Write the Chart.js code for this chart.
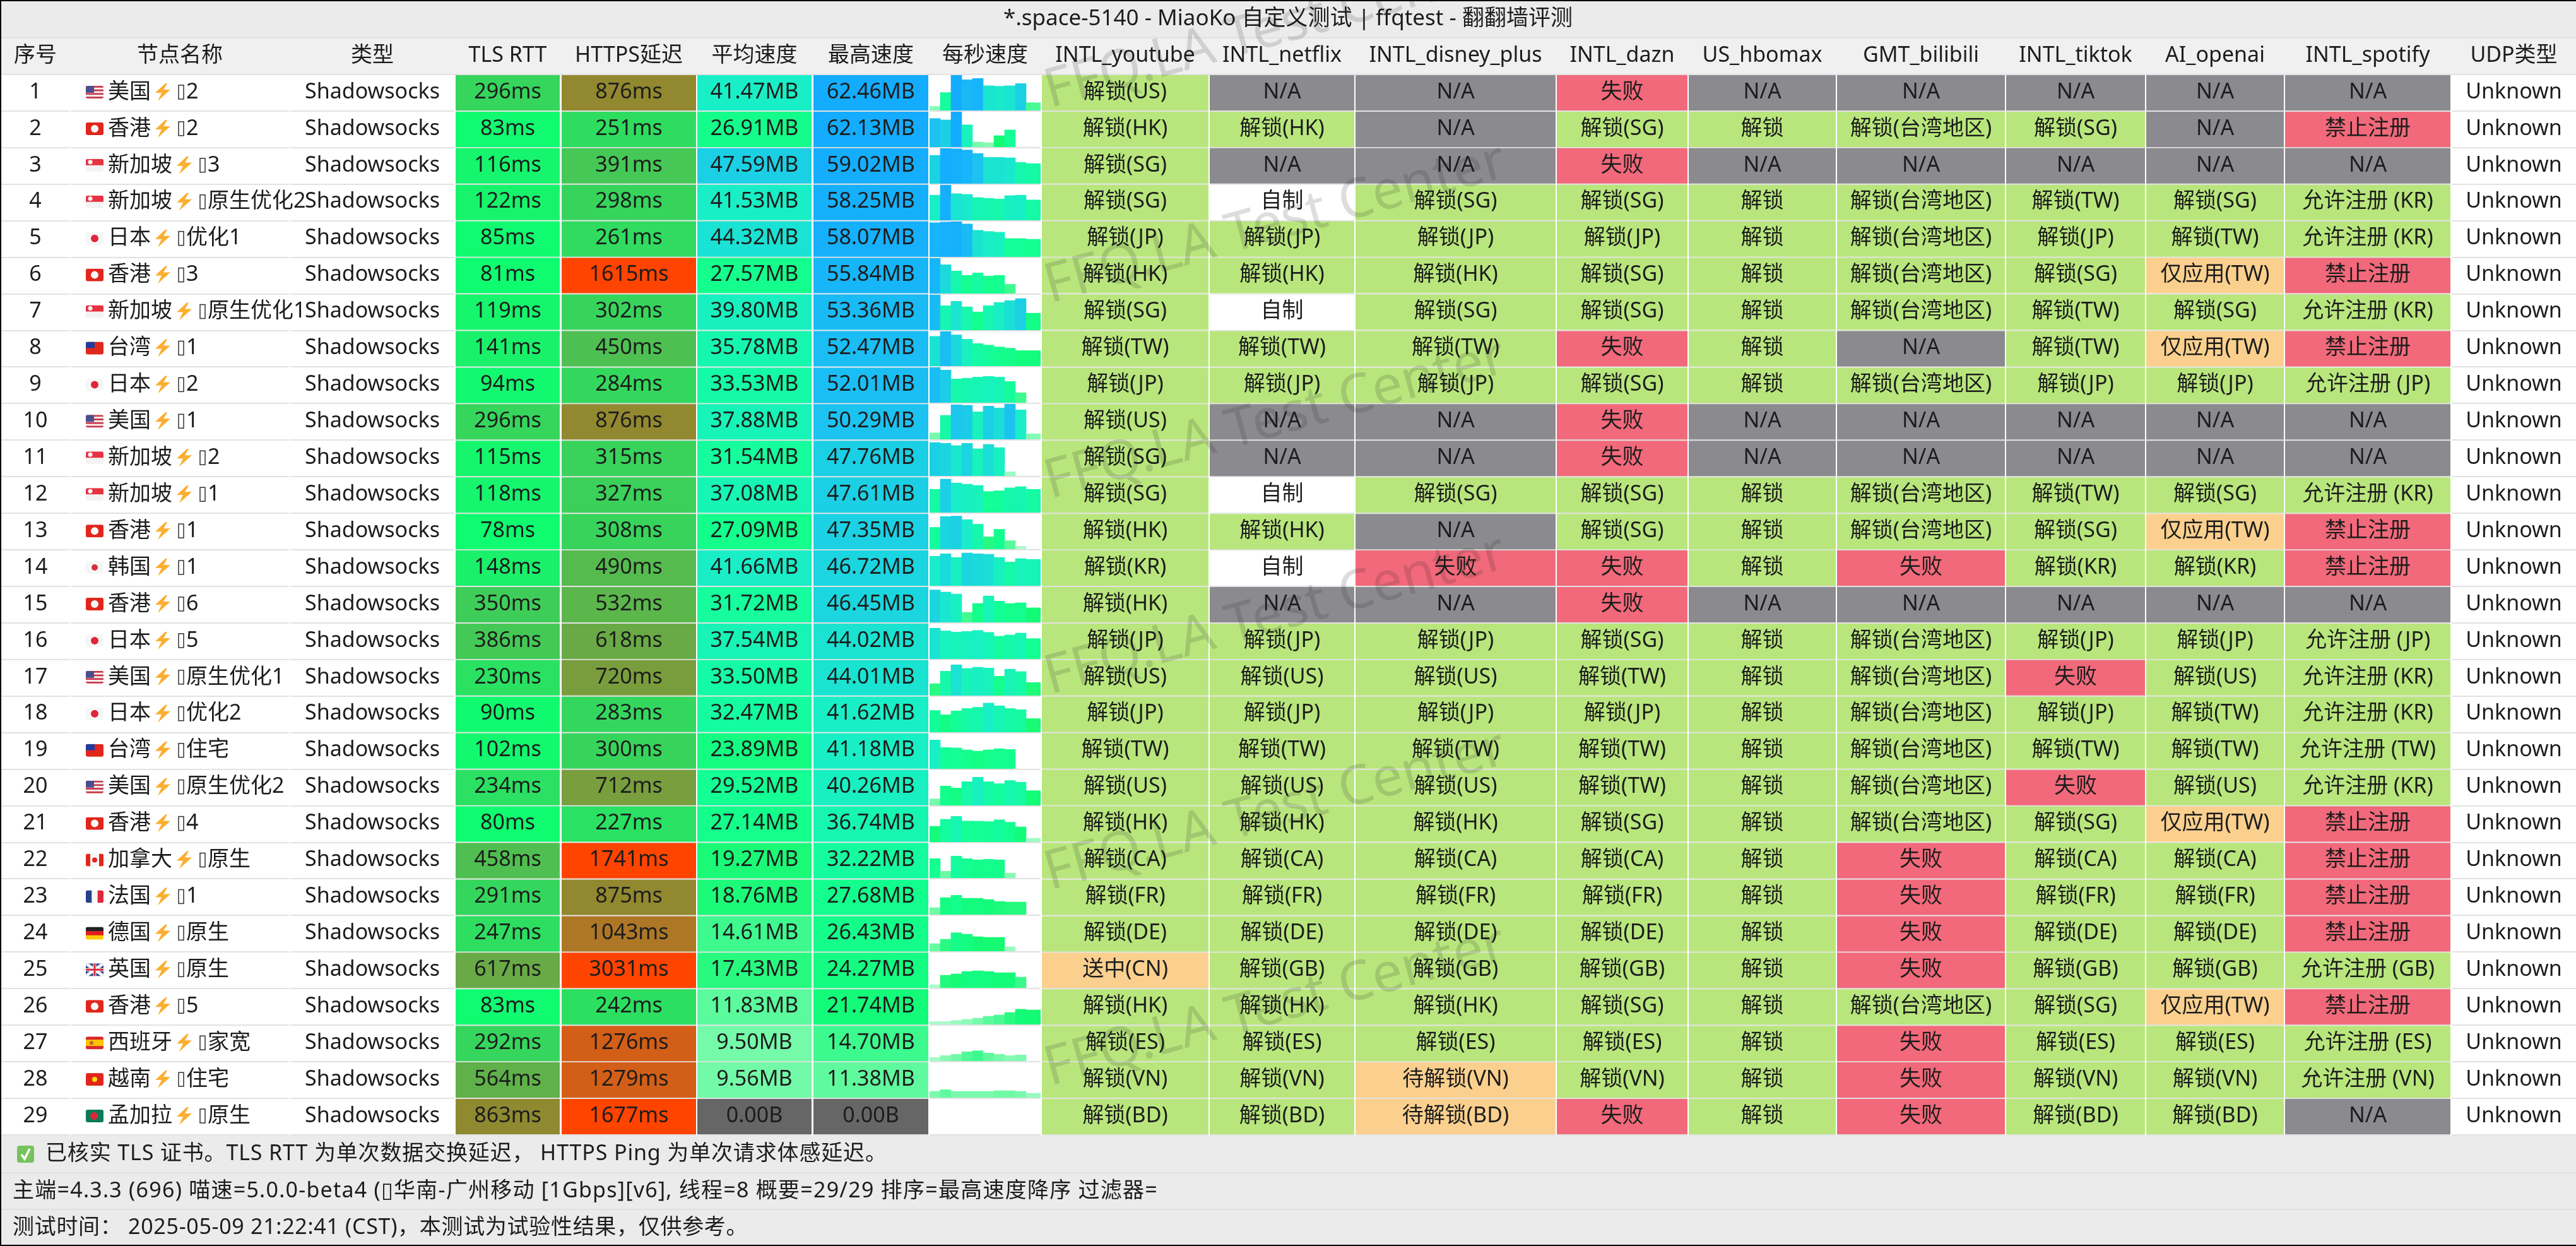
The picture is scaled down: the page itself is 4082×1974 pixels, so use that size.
<!DOCTYPE html>
<html lang="zh-CN">
<head>
<meta charset="utf-8">
<title>MiaoKo 自定义测试</title>
<style>
  html, body { margin: 0; padding: 0; background: #fff; overflow: hidden; }
  #stage { position: relative; width: 4082px; height: 1974px; }
  #table { position: absolute; left: 0; top: 0; z-index: 1; }
  .spark { position: absolute; overflow: hidden; z-index: 0; }
</style>
<script src="https://cdn.jsdelivr.net/npm/chart.js@4"></script>
</head>
<body>
<div id="stage"><canvas id="table" width="4082" height="1974"></canvas></div>
<script>
// ---- Data ---------------------------------------------------------

const TITLE = '*.space-5140 - MiaoKo 自定义测试 | ffqtest - 翻翻墙评测';
const WATERMARK = 'FFQ.LA Test Center';
const FOOTER_NOTE = '已核实 TLS 证书。TLS RTT 为单次数据交换延迟， HTTPS Ping 为单次请求体感延迟。';
const FOOTER_INFO = '主端=4.3.3 (696) 喵速=5.0.0-beta4 (▯华南-广州移动 [1Gbps][v6], 线程=8 概要=29/29 排序=最高速度降序 过滤器=';
const FOOTER_TIME = '测试时间： 2025-05-09 21:22:41 (CST)，本测试为试验性结果，仅供参考。';

const headers = ['序号', '节点名称', '类型', 'TLS RTT', 'HTTPS延迟', '平均速度', '最高速度', '每秒速度',
  'INTL_youtube', 'INTL_netflix', 'INTL_disney_plus', 'INTL_dazn', 'US_hbomax', 'GMT_bilibili',
  'INTL_tiktok', 'AI_openai', 'INTL_spotify', 'UDP类型'];

const nodeNames = ['美国⚡▯2', '香港⚡▯2', '新加坡⚡▯3', '新加坡⚡▯原生优化2', '日本⚡▯优化1', '香港⚡▯3',
  '新加坡⚡▯原生优化1', '台湾⚡▯1', '日本⚡▯2', '美国⚡▯1', '新加坡⚡▯2', '新加坡⚡▯1', '香港⚡▯1', '韩国⚡▯1',
  '香港⚡▯6', '日本⚡▯5', '美国⚡▯原生优化1', '日本⚡▯优化2', '台湾⚡▯住宅', '美国⚡▯原生优化2', '香港⚡▯4',
  '加拿大⚡▯原生', '法国⚡▯1', '德国⚡▯原生', '英国⚡▯原生', '香港⚡▯5', '西班牙⚡▯家宽', '越南⚡▯住宅', '孟加拉⚡▯原生'];
const nodeFlags = ['us', 'hk', 'sg', 'sg', 'jp', 'hk', 'sg', 'tw', 'jp', 'us', 'sg', 'sg', 'hk', 'kr',
  'hk', 'jp', 'us', 'jp', 'tw', 'us', 'hk', 'ca', 'fr', 'de', 'gb', 'hk', 'es', 'vn', 'bd'];

const tlsRtt = [296, 83, 116, 122, 85, 81, 119, 141, 94, 296, 115, 118, 78, 148, 350, 386, 230, 90, 102, 234, 80, 458, 291, 247, 617, 83, 292, 564, 863];
const httpsDelay = [876, 251, 391, 298, 261, 1615, 302, 450, 284, 876, 315, 327, 308, 490, 532, 618, 720, 283, 300, 712, 227, 1741, 875, 1043, 3031, 242, 1276, 1279, 1677];
const avgSpeed = [41.47, 26.91, 47.59, 41.53, 44.32, 27.57, 39.80, 35.78, 33.53, 37.88, 31.54, 37.08, 27.09, 41.66, 31.72, 37.54, 33.50, 32.47, 23.89, 29.52, 27.14, 19.27, 18.76, 14.61, 17.43, 11.83, 9.50, 9.56, 0];
const maxSpeed = [62.46, 62.13, 59.02, 58.25, 58.07, 55.84, 53.36, 52.47, 52.01, 50.29, 47.76, 47.61, 47.35, 46.72, 46.45, 44.02, 44.01, 41.62, 41.18, 40.26, 36.74, 32.22, 27.68, 26.43, 24.27, 21.74, 14.70, 11.38, 0];

// MB per second, ten samples for each node
const perSecond = [
  [7.3, 31.7, 62.46, 54.3, 56.5, 43.7, 42.8, 43.7, 47.5, 13.7],
  [50.2, 47.7, 62.13, 39.1, 8.9, 7.7, 20, 30.2, 0, 0],
  [47.3, 59.02, 58.2, 56.2, 50.5, 44, 44, 43.2, 35.6, 33.5],
  [41.5, 58.25, 43.9, 42.7, 37.5, 36.3, 35.1, 40.7, 41.5, 33.5],
  [56.1, 57.3, 58.07, 54.1, 43.8, 41.8, 40.6, 30.2, 30.2, 29],
  [55.84, 45.5, 35.6, 28.7, 32.5, 27.5, 28.7, 14.5, 0, 0],
  [53.36, 36.9, 43.5, 35.1, 27.4, 36.9, 41.7, 44.6, 47.5, 25.6],
  [44.2, 52.47, 46.3, 39.9, 33.4, 31.2, 28.4, 26.6, 23, 23],
  [52.01, 48.1, 34.9, 36, 37.7, 38.8, 37.7, 31.3, 14.6, 0],
  [9.3, 34.2, 49.3, 48.6, 39.3, 47.6, 44.9, 50.29, 42.1, 7.9],
  [47.76, 46.7, 43.3, 46.7, 38.8, 45, 40.5, 5.9, 0, 0],
  [33.2, 47.61, 42.2, 40.5, 38.8, 30.1, 31.1, 35.3, 37, 33.2],
  [31.1, 46.7, 47.35, 42.2, 35.6, 17.6, 28.4, 12.1, 4.2, 0],
  [42.2, 45.7, 40.5, 46.72, 45.7, 45, 40.5, 33.9, 38.8, 37.7],
  [46.45, 43.3, 40.5, 14.2, 27, 37.7, 30.4, 27, 28, 20.8],
  [44.02, 40.1, 38.4, 39.4, 40.8, 38.1, 32.5, 34.3, 37, 29.1],
  [17, 34.9, 44.01, 38.8, 40.5, 39.4, 27.7, 37.7, 34.3, 18.7],
  [31.1, 24.9, 30.4, 33.9, 35.6, 41.62, 37.7, 33.9, 32.2, 19.4],
  [41.18, 30.4, 29.8, 27, 25.3, 27, 28.7, 27.7, 0, 0],
  [9.3, 27.7, 24.9, 33.9, 40.26, 33.9, 31.1, 35.6, 33.2, 21.1],
  [22.5, 32.5, 36.74, 30, 29.8, 29.2, 31.8, 28.3, 21.6, 5.4],
  [28.6, 10.5, 32.22, 28.6, 26.8, 27.7, 26.8, 7.8, 0, 0],
  [9.9, 24.3, 27.68, 23.4, 23.4, 21.6, 18.9, 18, 18, 0],
  [10.8, 17.1, 26.43, 24.3, 20.7, 19.8, 19.8, 6.3, 0, 0],
  [4.5, 18, 19.8, 23.4, 24.27, 23.4, 21.6, 21.6, 15.3, 0],
  [4.2, 4.2, 5.7, 7.2, 9, 11.7, 13.5, 17.1, 21.74, 20.7],
  [5.1, 7.8, 9.6, 13.2, 14.7, 11.4, 9.6, 7.8, 8.7, 0],
  [9, 11.38, 9, 9, 9, 9, 9.9, 9.9, 9, 6.3],
  [0, 0, 0, 0, 0, 0, 0, 0, 0, 0],
];

const youtube = ['解锁(US)', '解锁(HK)', '解锁(SG)', '解锁(SG)', '解锁(JP)', '解锁(HK)', '解锁(SG)', '解锁(TW)', '解锁(JP)', '解锁(US)', '解锁(SG)', '解锁(SG)', '解锁(HK)', '解锁(KR)', '解锁(HK)', '解锁(JP)', '解锁(US)', '解锁(JP)', '解锁(TW)', '解锁(US)', '解锁(HK)', '解锁(CA)', '解锁(FR)', '解锁(DE)', '送中(CN)', '解锁(HK)', '解锁(ES)', '解锁(VN)', '解锁(BD)'];
const netflix = ['N/A', '解锁(HK)', 'N/A', '自制', '解锁(JP)', '解锁(HK)', '自制', '解锁(TW)', '解锁(JP)', 'N/A', 'N/A', '自制', '解锁(HK)', '自制', 'N/A', '解锁(JP)', '解锁(US)', '解锁(JP)', '解锁(TW)', '解锁(US)', '解锁(HK)', '解锁(CA)', '解锁(FR)', '解锁(DE)', '解锁(GB)', '解锁(HK)', '解锁(ES)', '解锁(VN)', '解锁(BD)'];
const disney = ['N/A', 'N/A', 'N/A', '解锁(SG)', '解锁(JP)', '解锁(HK)', '解锁(SG)', '解锁(TW)', '解锁(JP)', 'N/A', 'N/A', '解锁(SG)', 'N/A', '失败', 'N/A', '解锁(JP)', '解锁(US)', '解锁(JP)', '解锁(TW)', '解锁(US)', '解锁(HK)', '解锁(CA)', '解锁(FR)', '解锁(DE)', '解锁(GB)', '解锁(HK)', '解锁(ES)', '待解锁(VN)', '待解锁(BD)'];
const dazn = ['失败', '解锁(SG)', '失败', '解锁(SG)', '解锁(JP)', '解锁(SG)', '解锁(SG)', '失败', '解锁(SG)', '失败', '失败', '解锁(SG)', '解锁(SG)', '失败', '失败', '解锁(SG)', '解锁(TW)', '解锁(JP)', '解锁(TW)', '解锁(TW)', '解锁(SG)', '解锁(CA)', '解锁(FR)', '解锁(DE)', '解锁(GB)', '解锁(SG)', '解锁(ES)', '解锁(VN)', '失败'];
const hbomax = ['N/A', '解锁', 'N/A', '解锁', '解锁', '解锁', '解锁', '解锁', '解锁', 'N/A', 'N/A', '解锁', '解锁', '解锁', 'N/A', '解锁', '解锁', '解锁', '解锁', '解锁', '解锁', '解锁', '解锁', '解锁', '解锁', '解锁', '解锁', '解锁', '解锁'];
const bilibili = ['N/A', '解锁(台湾地区)', 'N/A', '解锁(台湾地区)', '解锁(台湾地区)', '解锁(台湾地区)', '解锁(台湾地区)', 'N/A', '解锁(台湾地区)', 'N/A', 'N/A', '解锁(台湾地区)', '解锁(台湾地区)', '失败', 'N/A', '解锁(台湾地区)', '解锁(台湾地区)', '解锁(台湾地区)', '解锁(台湾地区)', '解锁(台湾地区)', '解锁(台湾地区)', '失败', '失败', '失败', '失败', '解锁(台湾地区)', '失败', '失败', '失败'];
const tiktok = ['N/A', '解锁(SG)', 'N/A', '解锁(TW)', '解锁(JP)', '解锁(SG)', '解锁(TW)', '解锁(TW)', '解锁(JP)', 'N/A', 'N/A', '解锁(TW)', '解锁(SG)', '解锁(KR)', 'N/A', '解锁(JP)', '失败', '解锁(JP)', '解锁(TW)', '失败', '解锁(SG)', '解锁(CA)', '解锁(FR)', '解锁(DE)', '解锁(GB)', '解锁(SG)', '解锁(ES)', '解锁(VN)', '解锁(BD)'];
const openai = ['N/A', 'N/A', 'N/A', '解锁(SG)', '解锁(TW)', '仅应用(TW)', '解锁(SG)', '仅应用(TW)', '解锁(JP)', 'N/A', 'N/A', '解锁(SG)', '仅应用(TW)', '解锁(KR)', 'N/A', '解锁(JP)', '解锁(US)', '解锁(TW)', '解锁(TW)', '解锁(US)', '仅应用(TW)', '解锁(CA)', '解锁(FR)', '解锁(DE)', '解锁(GB)', '仅应用(TW)', '解锁(ES)', '解锁(VN)', '解锁(BD)'];
const spotify = ['N/A', '禁止注册', 'N/A', '允许注册 (KR)', '允许注册 (KR)', '禁止注册', '允许注册 (KR)', '禁止注册', '允许注册 (JP)', 'N/A', 'N/A', '允许注册 (KR)', '禁止注册', '禁止注册', 'N/A', '允许注册 (JP)', '允许注册 (KR)', '允许注册 (KR)', '允许注册 (TW)', '允许注册 (KR)', '禁止注册', '禁止注册', '禁止注册', '禁止注册', '允许注册 (GB)', '禁止注册', '允许注册 (ES)', '允许注册 (VN)', 'N/A'];

// ---- Layout -------------------------------------------------------
// Column extents double as the x scale's values (x scale is 1:1 with px).

const columnSpans = [[2, 110], [112, 458], [460, 720], [722, 887], [890, 1103], [1105, 1286], [1289, 1471], [1473, 1649],
  [1651, 1915], [1917, 2146], [2148, 2465], [2467, 2674], [2676, 2909], [2911, 3177], [3179, 3399], [3401, 3619], [3621, 3883], [3885, 4082]];
const columnCenters = columnSpans.map(s => (s[0] + s[1]) / 2);

const FONT = '"Noto Sans", "Noto Sans CJK SC", "DejaVu Sans", sans-serif';
const FONT_SIZE = 34;
const TEXT_COLOR = '#1c1c1c';
const SPEED_COLUMN = 7;
const TEXT_DY = -1;           // glyphs sit a little above the cell centre

// ---- Colours ------------------------------------------------------

const DELAY_STOPS = [[80, 15, 252, 112], [300, 55, 212, 92], [620, 105, 170, 70], [860, 143, 138, 48], [1280, 211, 94, 24], [1620, 255, 68, 0]];
const SPEED_STOPS = [[0, 220, 252, 230], [5, 165, 250, 200], [10, 110, 250, 165], [15, 58, 250, 140], [20, 20, 250, 115],
  [30, 20, 255, 150], [42, 25, 238, 200], [50, 28, 195, 240], [60, 20, 172, 255]];

function ramp(stops, v) {
  if (v <= stops[0][0]) return `rgb(${stops[0].slice(1)})`;
  for (let i = 1; i < stops.length; i++) {
    if (v <= stops[i][0]) {
      const a = stops[i - 1], b = stops[i], t = (v - a[0]) / (b[0] - a[0]);
      return `rgb(${[1, 2, 3].map(k => Math.round(a[k] + (b[k] - a[k]) * t))})`;
    }
  }
  return `rgb(${stops[stops.length - 1].slice(1)})`;
}
const delayColor = v => ramp(DELAY_STOPS, v);
const speedColor = v => ramp(SPEED_STOPS, v);
const cellSpeedColor = v => (v > 0 ? speedColor(v) : '#666666');

function statusColor(s) {
  if (s === 'N/A') return '#8b8a8e';
  if (s === '自制') return '#ffffff';
  if (/失败|禁止/.test(s)) return '#f1697a';
  if (/送中|仅应用|待解锁/.test(s)) return '#fbd08e';
  return '#b8e67c';
}

const speedText = v => (v > 0 ? v.toFixed(2) + 'MB' : '0.00B');
const blanks = nodeNames.map(() => '');
const clear = nodeNames.map(() => 'rgba(0,0,0,0)');
const statusCol = list => ({ text: list, color: list.map(statusColor) });

// one entry per header, same order
const cells = [
  { text: nodeNames.map((_, i) => String(i + 1)), color: clear },
  { text: blanks, color: clear },                               // node names drawn separately
  { text: nodeNames.map(() => 'Shadowsocks'), color: clear },
  { text: tlsRtt.map(v => v + 'ms'), color: tlsRtt.map(delayColor) },
  { text: httpsDelay.map(v => v + 'ms'), color: httpsDelay.map(delayColor) },
  { text: avgSpeed.map(speedText), color: avgSpeed.map(cellSpeedColor) },
  { text: maxSpeed.map(speedText), color: maxSpeed.map(cellSpeedColor) },
  { text: blanks, color: clear },                               // sparklines live under this column
  statusCol(youtube), statusCol(netflix), statusCol(disney), statusCol(dazn), statusCol(hbomax),
  statusCol(bilibili), statusCol(tiktok), statusCol(openai), statusCol(spotify),
  { text: nodeNames.map(() => 'Unknown'), color: clear },
];

// ---- Small glyphs with no font behind them --------------------------

function drawFlag(ctx, code, x, y) {
  const w = 28, h = 20;
  const bars = (cols, vertical) => cols.forEach((c, i) => {
    ctx.fillStyle = c;
    if (vertical) ctx.fillRect(x + i * w / cols.length, y, w / cols.length + 0.5, h);
    else ctx.fillRect(x, y + i * h / cols.length, w, h / cols.length + 0.5);
  });
  const dot = (c, r, cx) => {
    ctx.fillStyle = c;
    ctx.beginPath();
    ctx.arc(cx === undefined ? x + w / 2 : cx, y + h / 2, r, 0, Math.PI * 2);
    ctx.fill();
  };
  ctx.save();
  ctx.beginPath();
  ctx.roundRect(x, y, w, h, 3);
  ctx.clip();
  if (code === 'us') {
    bars(['#c8394a', '#f4f4f4', '#c8394a', '#f4f4f4', '#c8394a', '#f4f4f4', '#c8394a']);
    ctx.fillStyle = '#4a4f8c';
    ctx.fillRect(x, y, 13, 11);
  } else if (code === 'hk') {
    bars(['#e1261c']);
    dot('#f7f7f7', 6);
  } else if (code === 'sg') {
    bars(['#e8323f', '#f3f3f3']);
    ctx.fillStyle = '#f7f7f7';
    ctx.beginPath();
    ctx.arc(x + 7, y + 5, 3.5, 0, Math.PI * 2);
    ctx.fill();
  } else if (code === 'jp') {
    bars(['#f6f6f6']);
    dot('#e0263a', 6);
  } else if (code === 'tw') {
    bars(['#e1261c']);
    ctx.fillStyle = '#1f3b9b';
    ctx.fillRect(x, y, 14, 10);
  } else if (code === 'kr') {
    bars(['#f6f6f6']);
    dot('#d8303f', 5);
  } else if (code === 'ca') {
    bars(['#e1261c', '#f6f6f6', '#f6f6f6', '#e1261c'], true);
    dot('#e1261c', 4);
  } else if (code === 'fr') {
    bars(['#27408b', '#f6f6f6', '#e1263a'], true);
  } else if (code === 'de') {
    bars(['#222222', '#dd1f1f', '#fbcb00']);
  } else if (code === 'gb') {
    bars(['#2a3f8f']);
    ctx.strokeStyle = '#f6f6f6';
    ctx.lineWidth = 5;
    ctx.beginPath();
    ctx.moveTo(x, y); ctx.lineTo(x + w, y + h);
    ctx.moveTo(x + w, y); ctx.lineTo(x, y + h);
    ctx.moveTo(x + w / 2, y); ctx.lineTo(x + w / 2, y + h);
    ctx.moveTo(x, y + h / 2); ctx.lineTo(x + w, y + h / 2);
    ctx.stroke();
    ctx.strokeStyle = '#d8303f';
    ctx.lineWidth = 3;
    ctx.beginPath();
    ctx.moveTo(x + w / 2, y); ctx.lineTo(x + w / 2, y + h);
    ctx.moveTo(x, y + h / 2); ctx.lineTo(x + w, y + h / 2);
    ctx.stroke();
  } else if (code === 'es') {
    bars(['#d8262c', '#fbc400', '#fbc400', '#d8262c']);
    dot('#c8602c', 3, x + 9);
  } else if (code === 'vn') {
    bars(['#e0261c']);
    dot('#fbdc00', 4);
  } else if (code === 'bd') {
    bars(['#0b7a56']);
    dot('#e0263a', 6, x + 13);
  }
  ctx.restore();
}

function drawBolt(ctx, x, y) {
  ctx.fillStyle = '#fbae2f';
  ctx.beginPath();
  [[17, 0], [1, 15], [11, 15], [5, 28], [25, 10], [14, 10], [20, 0]].forEach((p, i) => {
    if (i === 0) ctx.moveTo(x + p[0], y + p[1]);
    else ctx.lineTo(x + p[0], y + p[1]);
  });
  ctx.closePath();
  ctx.fill();
}

function drawTofu(ctx, x, y) {
  ctx.strokeStyle = '#333333';
  ctx.lineWidth = 1.5;
  ctx.strokeRect(x, y, 8, 22);
}

function drawNodeCell(ctx, i, cy) {
  const parts = nodeNames[i].split('⚡▯');
  const nameX = 171;
  drawFlag(ctx, nodeFlags[i], 136, cy - 11);
  ctx.textAlign = 'left';
  ctx.fillStyle = TEXT_COLOR;
  ctx.fillText(parts[0], nameX, cy + TEXT_DY);
  const end = nameX + parts[0].length * FONT_SIZE;
  drawBolt(ctx, end + 6, cy - 15);
  drawTofu(ctx, end + 44, cy - 12);
  ctx.fillStyle = TEXT_COLOR;
  ctx.fillText(parts[1], end + 56, cy + TEXT_DY);
}

function footerLine(ctx, text, x, y, spacing) {
  ctx.letterSpacing = spacing + 'px';
  ctx.fillText(text, x, y);
  ctx.letterSpacing = '0px';
}

// ---- Plugins ------------------------------------------------------

const framePlugin = {
  id: 'frame',
  beforeDraw(chart) {
    const ctx = chart.ctx, area = chart.chartArea;
    ctx.save();
    ctx.fillStyle = '#ebebeb';
    ctx.fillRect(0, 0, chart.width, 60);
    ctx.fillStyle = '#f0f0f0';
    ctx.fillRect(0, 60, chart.width, area.top - 60);
    ctx.fillStyle = '#ebebeb';
    ctx.fillRect(0, area.bottom, chart.width, chart.height - area.bottom);
    ctx.fillStyle = '#e0e0e0';
    [59, 1857, 1915].forEach(y => ctx.fillRect(0, y, chart.width, 2));
    ctx.restore();
  },
  beforeDatasetsDraw(chart) {
    // white hairlines between columns, over the row rules
    const ctx = chart.ctx, area = chart.chartArea, x = chart.scales.x;
    ctx.save();
    ctx.fillStyle = '#ffffff';
    columnSpans.slice(1).forEach((s, c) => {
      const from = x.getPixelForValue(columnSpans[c][1]);
      ctx.fillRect(from, area.top + 1, x.getPixelForValue(s[0]) - from, area.bottom - area.top);
    });
    ctx.restore();
  },
  afterDatasetsDraw(chart) {
    const ctx = chart.ctx;
    ctx.save();
    ctx.font = `${FONT_SIZE}px ${FONT}`;
    ctx.textBaseline = 'middle';
    chart.data.datasets.forEach((ds, c) => {
      chart.getDatasetMeta(c).data.forEach((bar, i) => {
        ctx.fillStyle = TEXT_COLOR;
        if (c === 1) {
          drawNodeCell(ctx, i, bar.y);
          return;
        }
        if (!ds.cellText[i]) return;
        ctx.textAlign = 'center';
        ctx.fillText(ds.cellText[i], (bar.x + bar.base) / 2, bar.y + TEXT_DY);
      });
    });
    ctx.restore();
  },
  afterDraw(chart) {
    const ctx = chart.ctx;
    ctx.save();
    // footer
    ctx.font = `${FONT_SIZE}px ${FONT}`;
    ctx.fillStyle = TEXT_COLOR;
    ctx.textAlign = 'left';
    ctx.textBaseline = 'middle';
    footerLine(ctx, FOOTER_NOTE, 72, 1828, 0.85);
    footerLine(ctx, FOOTER_INFO, 20, 1887, 1.25);
    footerLine(ctx, FOOTER_TIME, 20, 1945, 0.7);
    ctx.fillStyle = '#76c35c';
    ctx.beginPath();
    ctx.roundRect(27, 1815, 27, 27, 4);
    ctx.fill();
    ctx.strokeStyle = '#ffffff';
    ctx.lineWidth = 3.5;
    ctx.beginPath();
    ctx.moveTo(34, 1829); ctx.lineTo(39, 1836); ctx.lineTo(47, 1820);
    ctx.stroke();
    // watermark
    ctx.font = `86px ${FONT}`;
    ctx.fillStyle = 'rgba(30,30,30,0.15)';
    ctx.textBaseline = 'alphabetic';
    [171, 480, 790, 1100, 1410, 1720].forEach(y => {
      ctx.save();
      ctx.translate(1664, y);
      ctx.rotate(-15.5 * Math.PI / 180);
      ctx.fillText(WATERMARK, 0, 0);
      ctx.restore();
    });
    // black frame of the screenshot
    ctx.fillStyle = '#000000';
    ctx.fillRect(0, 0, chart.width, 2);
    ctx.fillRect(0, 0, 2, chart.height);
    ctx.fillRect(0, chart.height - 2, chart.width, 2);
    ctx.restore();
  },
};

// ---- Table chart --------------------------------------------------

const tableChart = new Chart(document.getElementById('table'), {
  type: 'bar',
  plugins: [framePlugin],
  data: {
    labels: nodeNames,
    datasets: headers.map((h, c) => ({
      label: h,
      data: nodeNames.map(() => columnSpans[c]),
      backgroundColor: cells[c].color,
      cellText: cells[c].text,
      grouped: false,
      borderWidth: 0,
      borderSkipped: false,
      categoryPercentage: 1,
      barPercentage: 56 / 57.93,
    })),
  },
  options: {
    indexAxis: 'y',
    responsive: false,
    devicePixelRatio: 1,
    animation: false,
    events: [],
    layout: { padding: { left: 0, right: 0, top: 0, bottom: 176 } },
    plugins: {
      legend: { display: false },
      tooltip: { enabled: false },
      title: {
        display: true,
        text: TITLE,
        color: TEXT_COLOR,
        font: { family: FONT, size: 35, weight: 'normal', lineHeight: 40 / 35 },
        padding: { top: 10, bottom: 10 },
      },
    },
    scales: {
      x: {
        type: 'linear',
        position: 'top',
        min: 0,
        max: 4082,
        afterFit(scale) { scale.height = 58; },
        afterBuildTicks(scale) { scale.ticks = columnCenters.map(value => ({ value })); },
        grid: { display: false, drawTicks: false },
        border: { display: false },
        ticks: {
          autoSkip: false,
          maxRotation: 0,
          color: TEXT_COLOR,
          padding: 9,
          font: { family: FONT, size: FONT_SIZE },
          callback: (value, index) => headers[index],
        },
      },
      y: {
        afterFit(scale) { scale.width = 0; },
        grid: { color: '#e2e2e2', lineWidth: 2, drawTicks: false },
        border: { display: false },
        ticks: { display: false },
      },
    },
  },
});

// ---- Per-second sparklines ----------------------------------------
//
// One small bar chart per node, placed under the transparent 每秒速度
// column. The y axis tops out at 50.5 MB unless the node goes faster.
// The last bin is wider than the rest, so the canvas has an eleventh
// slot that the wrapper clips.

const SPARK_BIN_WIDTH = 17;
const sparkMeta = tableChart.getDatasetMeta(SPEED_COLUMN);

perSecond.forEach((samples, i) => {
  const bar = sparkMeta.data[i];
  const wrap = document.createElement('div');
  wrap.className = 'spark';
  wrap.style.left = bar.base + 'px';
  wrap.style.top = (bar.y - bar.height / 2) + 'px';
  wrap.style.width = (bar.x - bar.base) + 'px';
  wrap.style.height = bar.height + 'px';
  const canvas = document.createElement('canvas');
  const values = samples.concat(samples[samples.length - 1]);
  canvas.width = SPARK_BIN_WIDTH * values.length;
  canvas.height = Math.round(bar.height);
  wrap.appendChild(canvas);
  document.getElementById('stage').appendChild(wrap);
  new Chart(canvas, {
    type: 'bar',
    data: {
      labels: values.map((_, s) => s + 1),
      datasets: [{
        data: values,
        backgroundColor: values.map(speedColor),
        borderWidth: 0,
        categoryPercentage: 1,
        barPercentage: 1,
      }],
    },
    options: {
      responsive: false,
      devicePixelRatio: 1,
      animation: false,
      events: [],
      layout: { padding: 0 },
      plugins: { legend: { display: false }, tooltip: { enabled: false } },
      scales: {
        x: { display: false },
        y: { display: false, min: 0, max: Math.max(50.5, ...samples) },
      },
    },
  });
});
</script>
</body>
</html>
